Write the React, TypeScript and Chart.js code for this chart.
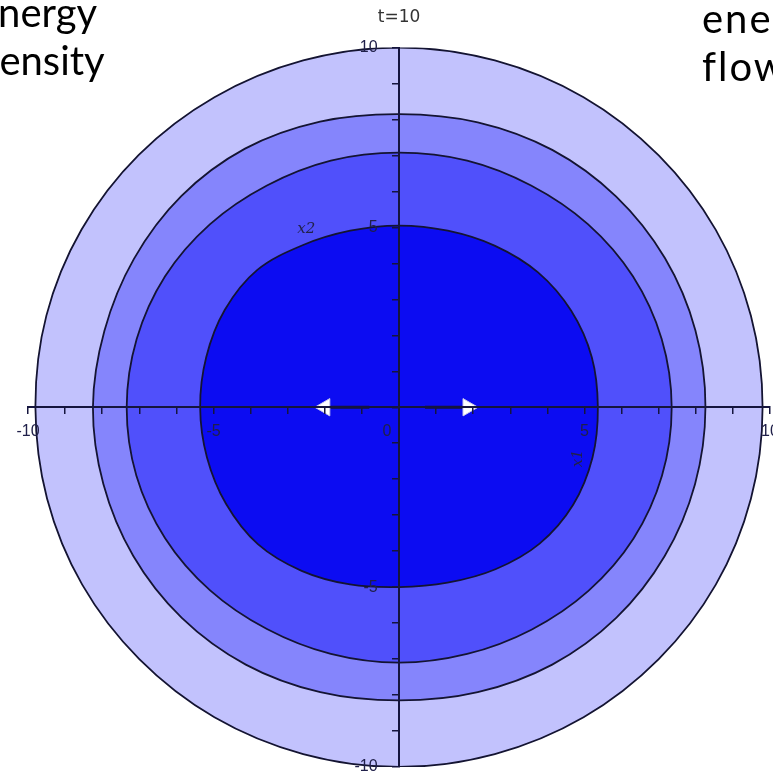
import React, { useEffect, useRef } from "react";
import { Chart, registerables } from "chart.js";

Chart.register(...registerables);

// Sample directions (degrees, counter-clockwise from +x1) at which contour radii were read
const ANGLES = [0, 15, 30, 45, 60, 75, 90, 105, 120, 135, 150, 165, 180, 195, 210, 225, 240, 255, 270, 285, 300, 315, 330, 345];

// Contour radii (data units), one per angle above
const OUTER_R = [9.8, 9.82, 9.86, 9.9, 9.95, 9.98, 10.0, 9.98, 9.95, 9.92, 9.88, 9.84, 9.8, 9.82, 9.86, 9.9, 9.95, 9.98, 10.0, 9.98, 9.95, 9.9, 9.86, 9.82];
const SECOND_R = [8.26, 8.27, 8.28, 8.28, 8.26, 8.2, 8.15, 8.22, 8.3, 8.3, 8.25, 8.22, 8.25, 8.25, 8.27, 8.28, 8.26, 8.2, 8.15, 8.2, 8.26, 8.28, 8.27, 8.26];
const THIRD_R = [7.35, 7.33, 7.28, 7.2, 7.12, 7.1, 7.08, 7.1, 7.12, 7.2, 7.28, 7.32, 7.34, 7.33, 7.28, 7.2, 7.12, 7.1, 7.1, 7.1, 7.14, 7.22, 7.3, 7.34];
const INNER_R = [5.36, 5.38, 5.36, 5.3, 5.18, 5.08, 5.05, 5.08, 5.2, 5.4, 5.42, 5.38, 5.36, 5.36, 5.38, 5.38, 5.25, 5.1, 5.0, 5.05, 5.2, 5.36, 5.42, 5.4];

// Level fill colours, outermost first
const LEVEL_COLORS = ["#c2c2fd", "#8585fc", "#5050fb", "#0c0cf2"];

// Energy-flow arrows: shaft start and tip centre on the x1 axis
const ARROW_START_X = [-0.8, 0.7];
const ARROW_TIP_X = [-2.0, 1.86];
const ARROW_ROT = [-90, 90];

// Axis
const AXIS_MIN = -10;
const AXIS_MAX = 10;
const LABELED_TICKS = [-10, -5, 0, 5, 10];
const TITLE = "t=10";

// Axis name labels [text, x, y, rotation]
const AXIS_NAMES: [string, number, number, number][] = [
  ["x2", -2.5, 4.95, 0],
  ["x1", 4.82, -1.42, -90],
];

const LINE_COLOR = "#141432";
const AXIS_COLOR = "#15153e";

function ring(radii: number[]) {
  const pts = ANGLES.map((a, i) => ({
    x: radii[i] * Math.cos((a * Math.PI) / 180),
    y: radii[i] * Math.sin((a * Math.PI) / 180),
  }));
  const n = pts.length;
  // wrap neighbours so the spline closes smoothly
  return [pts[n - 1], ...pts, pts[0], pts[1]];
}

const axisNamePlugin = {
  id: "axisNames",
  afterDatasetsDraw(chart: any) {
    const { ctx, scales } = chart;
    ctx.save();
    ctx.fillStyle = "#22224a";
    ctx.font = "italic 15px 'DejaVu Serif'";
    ctx.textAlign = "center";
    ctx.textBaseline = "middle";
    for (const [t, x, y, rot] of AXIS_NAMES) {
      const px = scales.x.getPixelForValue(x);
      const py = scales.y.getPixelForValue(y);
      ctx.save();
      ctx.translate(px, py);
      ctx.rotate((rot * Math.PI) / 180);
      ctx.fillText(t, 0, 0);
      ctx.restore();
    }
    ctx.restore();
  },
};

export default function App() {
  const ref = useRef<HTMLCanvasElement | null>(null);

  useEffect(() => {
    if (!ref.current) return;
    const levels = [OUTER_R, SECOND_R, THIRD_R, INNER_R];
    const n = ANGLES.length;
    const contourSets = levels.map((r, i) => ({
      label: "level" + i,
      data: ring(r),
      showLine: true,
      fill: "shape",
      backgroundColor: LEVEL_COLORS[i],
      borderColor: LINE_COLOR,
      borderWidth: 1.8,
      tension: 0.35,
      pointRadius: 0,
      segment: {
        borderColor: (c: any) =>
          c.p0DataIndex === 0 || c.p0DataIndex === n + 1 ? "rgba(0,0,0,0)" : undefined,
      },
      order: 10 - i,
    }));
    const arrowSets = ARROW_TIP_X.map((tx, i) => ({
      label: "arrow" + i,
      data: [
        { x: ARROW_START_X[i], y: 0 },
        { x: tx, y: 0 },
      ],
      showLine: true,
      fill: false,
      borderColor: "#101040",
      borderWidth: 3,
      pointRadius: [0, 10],
      pointStyle: "triangle",
      pointRotation: [0, ARROW_ROT[i]],
      pointBackgroundColor: "#ffffff",
      pointBorderColor: "#c8c8e8",
      pointBorderWidth: 1,
      order: 0,
    }));

    const tickFont = { family: "'Liberation Sans', sans-serif", size: 16 };
    const chart = new Chart(ref.current, {
      type: "scatter",
      data: { datasets: [...contourSets, ...arrowSets] as any },
      options: {
        animation: false,
        responsive: false,
        events: [],
        layout: { padding: { left: 28, right: 20, top: 0, bottom: 23 } },
        plugins: {
          legend: { display: false },
          tooltip: { enabled: false },
          title: {
            display: true,
            text: TITLE,
            color: "#333333",
            font: { family: "'DejaVu Sans'", size: 17, weight: "normal" },
            padding: { top: 7, bottom: 20.1 },
          },
        },
        scales: {
          x: {
            type: "linear",
            min: AXIS_MIN,
            max: AXIS_MAX,
            position: { y: 0 } as any,
            ticks: {
              z: 1,
              stepSize: 1,
              autoSkip: false,
              maxRotation: 0,
              padding: 9,
              color: "#20204a",
              font: tickFont,
              callback: (v: any) => {
                const x = Number(v);
                if (!LABELED_TICKS.includes(x)) return "";
                return x === 0 ? "0\u2003\u2002" : String(x);
              },
            },
            grid: {
              z: 1,
              drawOnChartArea: false,
              drawTicks: true,
              tickLength: 6,
              color: AXIS_COLOR,
              lineWidth: 1.5,
            },
            border: { z: 1, color: AXIS_COLOR, width: 2 },
          },
          y: {
            type: "linear",
            min: AXIS_MIN,
            max: AXIS_MAX,
            position: { x: 0 } as any,
            ticks: {
              z: 1,
              stepSize: 1,
              autoSkip: false,
              padding: 12,
              color: "#20204a",
              font: tickFont,
              callback: (v: any) => {
                const y = Number(v);
                if (!LABELED_TICKS.includes(y) || y === 0) return "";
                // trailing gap keeps the label clear of the ticks (labels are right-aligned on the axis)
                return String(y) + "\u2003\u2004";
              },
            },
            grid: {
              z: 1,
              drawOnChartArea: false,
              drawTicks: true,
              tickLength: 6,
              color: AXIS_COLOR,
              lineWidth: 1.5,
            },
            border: { z: 1, color: AXIS_COLOR, width: 2 },
          },
        },
      },
      plugins: [axisNamePlugin],
    });
    return () => chart.destroy();
  }, []);

  const bigText: React.CSSProperties = {
    position: "absolute",
    fontFamily: "Lato, sans-serif",
    fontSize: 40,
    lineHeight: "48px",
    color: "#000",
    whiteSpace: "nowrap",
  };

  return (
    <div
      style={{
        position: "fixed",
        left: 0,
        top: 0,
        width: 773,
        height: 774,
        overflow: "hidden",
        background: "#ffffff",
      }}
    >
      <canvas ref={ref} width={790} height={790} style={{ position: "absolute", left: 0, top: 0, display: "block" }} />
      <div style={{ ...bigText, left: -23, top: -12 }}>
        energy
        <br />
        density
      </div>
      <div style={{ ...bigText, left: 702, top: -6, letterSpacing: 2 }}>
        energy
        <br />
        flow
      </div>
    </div>
  );
}
